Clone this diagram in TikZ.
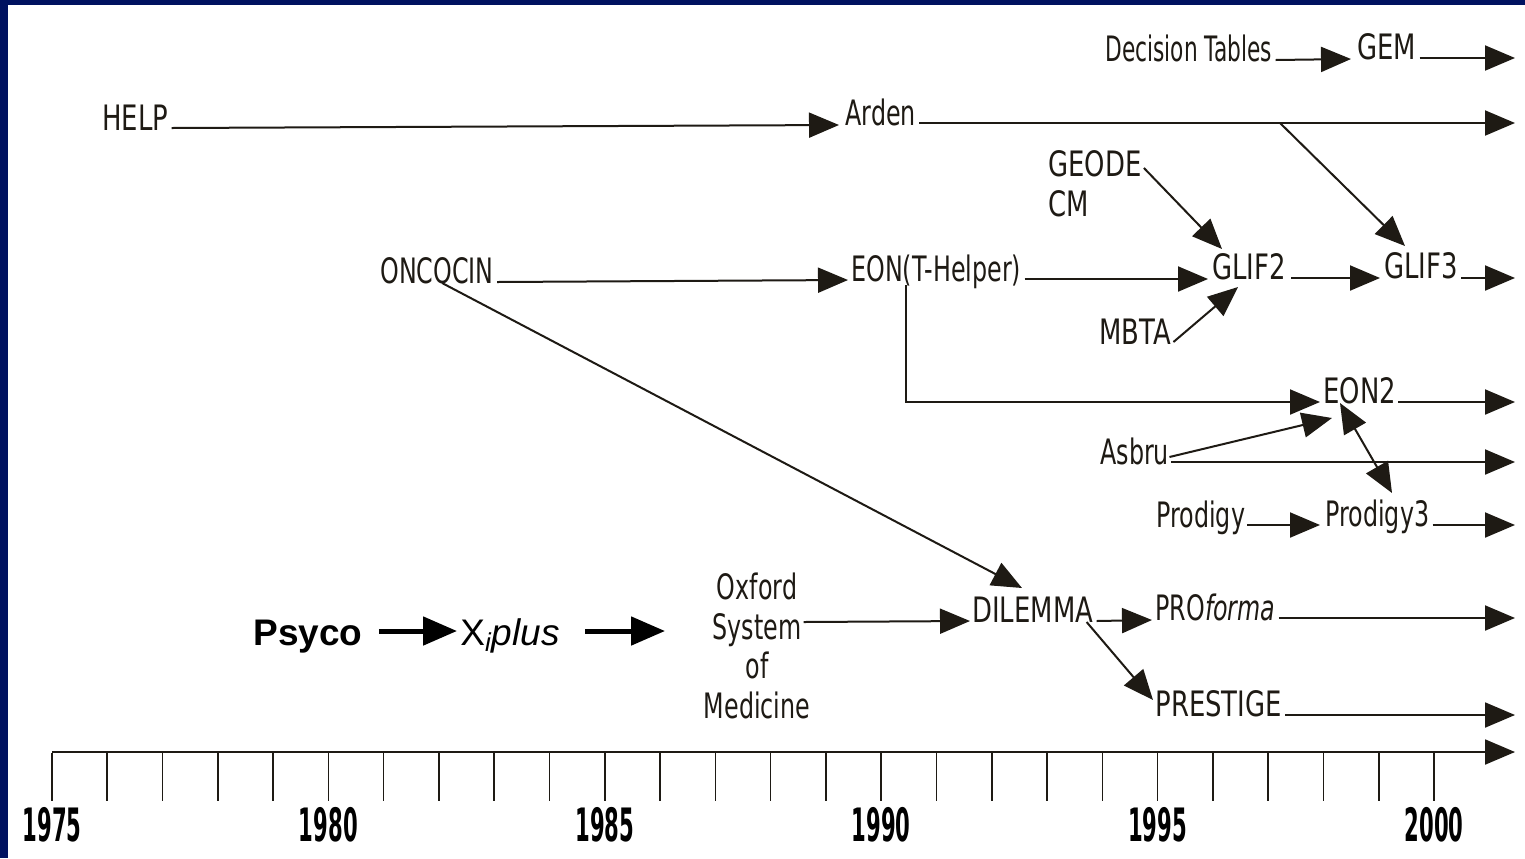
\documentclass[tikz,border=0pt]{standalone}
\usepackage{fontspec}
\setmainfont{Liberation Sans}
\newfontfamily\labfont{DejaVu Sans}[FakeStretch=0.68]
\newfontfamily\labnarrow{DejaVu Sans}[FakeStretch=0.62]
\newfontfamily\capfont{DejaVu Sans}[FakeStretch=0.74]
\newfontfamily\yearfont{DejaVu Sans}[FakeStretch=0.46]
\usetikzlibrary{arrows.meta}
\definecolor{navy}{RGB}{0,18,96}
\definecolor{ink}{RGB}{30,26,20}
\tikzset{
  lab/.style={inner sep=0pt, anchor=base west, text=ink, font=\labfont\fontsize{17.5pt}{20pt}\selectfont},
  caps/.style={lab, font=\capfont\fontsize{17.5pt}{20pt}\selectfont},
  narrowlab/.style={lab, font=\labnarrow\fontsize{17.5pt}{20pt}\selectfont},
  yr/.style={inner sep=0pt, anchor=center, text=black, font=\yearfont\bfseries\fontsize{23pt}{26pt}\selectfont},
  link/.style={draw=ink, line width=1pt},
  arr/.style={link, -{Triangle[length=15pt,width=12.5pt]}},
  darr/.style={link, {Triangle[length=15pt,width=12.5pt]}-{Triangle[length=15pt,width=12.5pt]}},
  big/.style={draw=black, line width=2.5pt, -{Triangle[length=17pt,width=14pt]}},
  tickmark/.style={draw=ink, line width=0.8pt},
}
\begin{document}
\begin{tikzpicture}[x=0.5pt,y=-0.5pt]
\useasboundingbox (0,0) rectangle (1525,858);
\fill[white] (0,0) rectangle (1525,858);
\fill[navy] (0,0) rectangle (1525,5);
\fill[navy] (0,0) rectangle (8,858);

% labels
\node[narrowlab] (dt) at (1105,61)  {Decision Tables};
\node[caps] (gem)    at (1357,59)  {GEM};
\node[caps] (help)   at (102,130)  {HELP};
\node[lab]  (arden)  at (845,125)  {Arden};
\node[caps] (geode)  at (1048,176) {GEODE};
\node[caps] (cm)     at (1048,216) {CM};
\node[lab, font=\labfont\fontsize{17.5pt}{20pt}\selectfont] (onc) at (380,283) {ONCOCIN};
\node[lab]  (eon)    at (851,281)  {EON(T-Helper)};
\node[caps] (glif2)  at (1212,279) {GLIF2};
\node[caps] (glif3)  at (1384,278) {GLIF3};
\node[caps] (mbta)   at (1099,344) {MBTA};
\node[caps] (eon2)   at (1323,403) {EON2};
\node[lab]  (asbru)  at (1100,464) {Asbru};
\node[lab]  (prod)   at (1156,527) {Prodigy};
\node[lab]  (prod3)  at (1325,526) {Prodigy3};
\node[caps] (dil)    at (972,622)  {DILEMMA};
\node[lab]  (prof)   at (1155,620) {PRO\textit{forma}};
\node[caps] (prest)  at (1155,716) {PRESTIGE};
\node[inner sep=0pt, align=center, text=ink, font=\labfont\fontsize{17.5pt}{19.75pt}\selectfont]
  (osm) at (757,646) {Oxford\\System\\of\\Medicine};
\node[inner sep=0pt, anchor=base west, font=\bfseries\fontsize{18.5pt}{22pt}\selectfont] (psy) at (253,645) {Psyco};
\node[inner sep=0pt, anchor=base west, font=\fontsize{18.5pt}{22pt}\selectfont] (xip) at (460,645) {X\textsubscript{\itshape i}\textit{plus}};

% right-edge coordinates
\coordinate (rGem)   at (1515,58);
\coordinate (rArden) at (1515,123);
\coordinate (rGlif3) at (1515,278);
\coordinate (rEon2)  at (1515,402);
\coordinate (rAsbru) at (1515,462);
\coordinate (rProd3) at (1515,525);
\coordinate (rProf)  at (1515,618);
\coordinate (rPrest) at (1515,715);
\coordinate (brA)    at (1280,123);
\coordinate (osmNext) at (665,631);

% connectors
\draw[arr] ([shift={(3,-1)}]dt.base east) -- ([shift={(-6,0)}]gem.base west);
\draw[arr] ([shift={(3,-1)}]gem.base east) -- (rGem);
\draw[arr] ([shift={(3,-2)}]help.base east) -- ([shift={(-6,0)}]arden.base west);
\draw[arr] ([shift={(3,-2)}]arden.base east) -- (rArden);
\draw[arr] (brA) -- ([shift={(21,-32)}]glif3.base west);
\draw[arr] ([shift={(2,-8)}]geode.base east) -- ([shift={(10,-30)}]glif2.base west);
\draw[arr] ([shift={(3,-1)}]onc.base east) -- ([shift={(-3,-1)}]eon.base west);
\draw[arr] ([shift={(5,0)}]onc.base) -- ([shift={(50,-34)}]dil.base west);
\draw[arr] ([shift={(3,-2)}]eon.base east) -- ([shift={(-4,0)}]glif2.base west);
\draw[arr] ([shift={(5,-1)}]glif2.base east) -- ([shift={(-4,0)}]glif3.base west);
\draw[arr] ([shift={(3,0)}]glif3.base east) -- (rGlif3);
\draw[arr] ([shift={(2,-2)}]mbta.base east) -- ([shift={(26,8)}]glif2.base west);
\draw[arr] ([shift={(55,4)}]eon.base west) |- ([shift={(-3,-1)}]eon2.base west);
\draw[arr] ([shift={(2,-1)}]eon2.base east) -- (rEon2);
\draw[arr] ([shift={(0,-7)}]asbru.base east) -- ([shift={(9,15)}]eon2.base west);
\draw[arr] ([shift={(2,-2)}]asbru.base east) -- (rAsbru);
\draw[darr] ([shift={(17,0)}]eon2.base west) -- ([shift={(67,-33)}]prod3.base west);
\draw[arr] ([shift={(2,-2)}]prod.base east) -- ([shift={(-5,-1)}]prod3.base west);
\draw[arr] ([shift={(3,-1)}]prod3.base east) -- (rProd3);
\draw[arr] ([shift={(-7,-24)}]osm.east) -- ([shift={(-2,-1)}]dil.base west);
\draw[arr] ([shift={(3,-1)}]dil.base east) -- ([shift={(-3,0)}]prof.base west);
\draw[arr] ([shift={(-7,0)}]dil.base east) -- ([shift={(-2,-16)}]prest.base west);
\draw[arr] ([shift={(3,-2)}]prof.base east) -- (rProf);
\draw[arr] ([shift={(3,-1)}]prest.base east) -- (rPrest);
\draw[big] ([shift={(16,-14)}]psy.base east) -- ([shift={(-3,-14)}]xip.base west);
\draw[big] ([shift={(25,-14)}]xip.base east) -- (osmNext);

% time axis
\coordinate (ax0) at (52,752);
\coordinate (ax1) at (1515,752);
\draw[arr] (ax0) -- (ax1);
\foreach \i in {0,...,25} {
  \draw[tickmark] (52+55.28*\i,753) -- (52+55.28*\i,801);
}
\foreach \y [count=\k from 0] in {1975,1980,1985,1990,1995,2000} {
  \node[yr] (y\y) at (52+276.4*\k,825) {\y};
}
\end{tikzpicture}
\end{document}
